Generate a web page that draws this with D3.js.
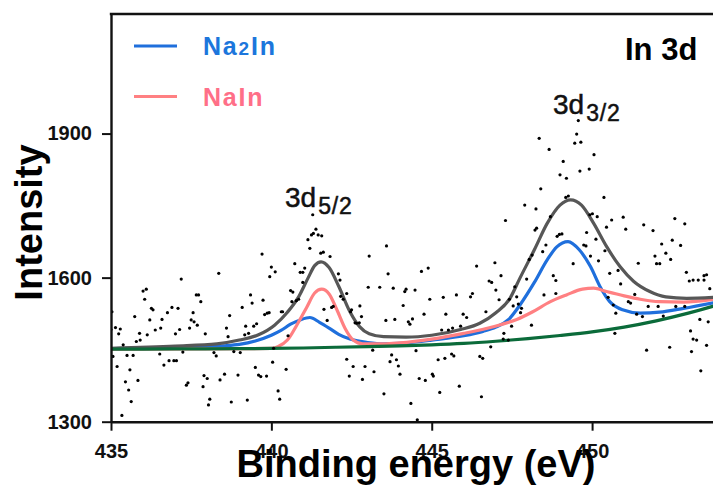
<!DOCTYPE html>
<html>
<head>
<meta charset="utf-8">
<script src="https://cdn.jsdelivr.net/npm/d3@7"></script>
<style>
  body { margin: 0; background: #fff; }
  svg { display: block; font-family: "Liberation Sans", Arial, sans-serif; }
</style>
</head>
<body>
<div id="chart"></div>
<script>

const xTicks = [435, 440, 445, 450];
const yTicks = [1300, 1600, 1900];
const xDomain = [435, 453.77];
const yDomain = [1300, 2149];

// measured counts: [binding energy, intensity]
const scanPoints = [
  [435.03,1529],[435.0,1492],[435.14,1496],[435.29,1493],[435.24,1483],[435.06,1436],[435.19,1415],
  [435.38,1460],[435.50,1438],[435.69,1438],[435.59,1408],[435.45,1383],[435.55,1366],[435.63,1342],
  [435.34,1313],[435.74,1519],[435.79,1467],[435.84,1386],[435.91,1470],[435.89,1484],[436.00,1572],
  [436.10,1576],[436.05,1555],[436.13,1481],[436.21,1512],[436.26,1536],[436.31,1533],[436.38,1491],
  [436.52,1441],[436.55,1495],[436.59,1513],[436.65,1418],[436.76,1527],[436.81,1427],[436.90,1538],
  [436.96,1427],[437.04,1427],[437.01,1483],[437.09,1536],[437.14,1492],[437.19,1597],[437.24,1445],
  [437.35,1376],[437.40,1381],[437.45,1495],[437.50,1512],[437.56,1527],[437.59,1508],[437.66,1564],
  [437.73,1564],[437.69,1501],[437.80,1550],[437.87,1373],[437.90,1396],[437.94,1483],[438.00,1390],
  [438.08,1347],[438.04,1335],[438.21,1444],[438.28,1437],[438.36,1609],[438.40,1387],[438.54,1399],
  [438.60,1495],[438.65,1477],[438.70,1521],[438.75,1341],[438.83,1446],[438.96,1397],[439.03,1444],
  [439.09,1538],[439.17,1481],[439.20,1499],[439.25,1345],[439.29,1484],[439.35,1564],[439.40,1547],
  [439.45,1499],[439.50,1413],[439.54,1504],[439.60,1397],[439.67,1394],[439.71,1649],[439.74,1553],
  [439.79,1523],[439.85,1395],[439.87,1526],[439.93,1527],[439.95,1602],[440.00,1622],[440.04,1424],
  [440.07,1453],[440.12,1612],[440.21,1364],[440.26,1347],[440.31,1529],[440.35,1529],[440.46,1409],
  [440.52,1479],[440.60,1573],[440.67,1570],[440.64,1550],[440.73,1629],[440.78,1552],[440.85,1555],
  [440.90,1611],[440.98,1611],[440.98,1590],[441.04,1620],[441.14,1679],
  [441.29,1731],[441.39,1701],[441.31,1692],[441.25,1689],[441.46,1689],[441.57,1687],[441.20,1661],
  [441.54,1651],[441.62,1653],[441.83,1644],[442.09,1608],[442.14,1595],[441.93,1540],[441.88,1538],
  [441.64,1534],[441.74,1511],[442.16,1561],[442.24,1555],[442.35,1567],[442.50,1533],[442.47,1529],
  [442.61,1506],[442.66,1505],[442.76,1541],[442.81,1519],[442.74,1506],[442.35,1430],[442.55,1415],
  [442.43,1395],[442.84,1388],[442.92,1415],[443.05,1645],[443.02,1580],[443.20,1404],[443.16,1449],
  [443.38,1580],[443.51,1358],[443.59,1666],[443.64,1608],[443.57,1511],[443.80,1578],[443.85,1513],
  [443.75,1439],[443.70,1425],[443.90,1429],[444.01,1399],[443.96,1416],[444.11,1542],[444.20,1576],
  [444.16,1571],[444.27,1508],[444.32,1503],[444.40,1514],[444.48,1574],[444.51,1448],[444.35,1338],
  [444.55,1304],[444.61,1390],[444.68,1613],[444.80,1386],[444.89,1620],[444.94,1555],[444.76,1524],
  [445.05,1395],[445.02,1399],[445.20,1429],[445.25,1361],[445.31,1491],[445.36,1559],[445.41,1432],
  [445.44,1524],[445.52,1491],[445.65,1495],[445.62,1441],[445.69,1437],[445.77,1564],[445.86,1374],
  [445.90,1499],[445.98,1524],[446.09,1517],[446.21,1560],[446.27,1567],[446.40,1624],[446.50,1436],
  [446.59,1432],[446.55,1352],[446.69,1529],[446.79,1593],[446.87,1590],[446.84,1456],[446.97,1631],
  [447.00,1574],[447.10,1554],[447.16,1604],[447.23,1472],[447.30,1719],[447.39,1470],[447.25,1484],
  [449.57,1927],[449.52,1899],[449.46,1880],[449.65,1882],[448.35,1890],[448.66,1867],[450.06,1856],
  [449.10,1842],[449.00,1814],[449.20,1807],[449.62,1822],[449.91,1826],[448.40,1785],[449.26,1770],
  [449.18,1767],[447.90,1751],[448.25,1743],[450.37,1767],[448.70,1727],[449.93,1731],[450.01,1733],
  [450.16,1727],[450.61,1720],[450.97,1726],[450.45,1705],[449.83,1694],[451.05,1701],[451.61,1710],
  [451.90,1698],[452.58,1723],[452.89,1712],[448.27,1703],[448.22,1699],[448.98,1690],[449.06,1691],
  [448.91,1686],[450.12,1680],[448.56,1668],[448.46,1654],[449.81,1666],[449.74,1668],[448.13,1647],
  [448.04,1638],[449.95,1645],[450.20,1635],[450.40,1656],[452.17,1670],[452.50,1678],[452.76,1667],
  [451.96,1645],[452.30,1651],[452.01,1629],[452.11,1629],[452.45,1638],[449.41,1629],[447.96,1597],
  [448.79,1604],[448.87,1594],[450.55,1609],[450.81,1615],[451.44,1630],[452.94,1611],[453.03,1593],
  [453.15,1595],[453.31,1595],[453.49,1595],[453.49,1604],[453.57,1606],[453.67,1577],[450.89,1587],
  [448.50,1564],[448.87,1567],[447.59,1581],[447.65,1560],[447.42,1555],[447.70,1545],[447.54,1541],
  [447.80,1536],[447.77,1527],[450.50,1559],[450.66,1543],[450.74,1526],[451.13,1550],[451.20,1547],
  [451.33,1565],[451.39,1524],[451.57,1519],[451.75,1540],[452.06,1540],[452.22,1520],[452.61,1540],
  [452.89,1540],[453.36,1513],[453.62,1508],[448.11,1501],[447.49,1499],[450.71,1484],[453.07,1489],
  [453.15,1472],[453.26,1470],[451.70,1449],[452.42,1455],[453.10,1446],[453.57,1459],[453.39,1406]
];

// fitted curves: [binding energy, intensity]
const backgroundCurve = [
  [435,1451],[437,1451.5],[439,1452],[440,1452.5],[441,1453.5],[442,1455],[443,1456.5],[444,1458],
  [445,1460],[446,1463],[447,1467.5],[448,1473],[449,1479.5],[450,1487],[451,1497],[452,1510],
  [453,1526],[453.8,1541]
];
const na2InCurve = [
  [435,1452],[436,1453],[437,1454],[438,1456],[438.5,1458],[439,1461],[439.5,1468],[440,1480],
  [440.3,1490],[440.6,1503],[440.9,1512],[441.2,1517],[441.5,1507],[441.8,1495],[442.1,1482],
  [442.45,1472],[443,1465],[443.5,1462],[444,1463],[444.5,1466],[445,1470],[446,1479],[446.6,1488],
  [447,1497],[447.4,1513],[447.75,1543],[448.2,1590],[448.6,1637],[448.9,1664],[449.25,1675],[449.6,1658],
  [449.95,1623],[450.25,1581],[450.55,1550],[450.95,1533],[451.5,1526],[452.1,1528],[452.85,1536],
  [453.8,1548]
];
const naInCurve = [
  [435,1451],[440,1452.5],[440.2,1456],[440.5,1470],[440.8,1502],[441.1,1538],[441.35,1568],
  [441.57,1576],[441.8,1566],[442.05,1532],[442.3,1494],[442.55,1470],[442.85,1462],[443.5,1462],
  [444,1464],[445,1472],[446,1484],[446.7,1494],[447.2,1503],[447.65,1513],[448.15,1529],[448.7,1550],
  [449.2,1564],[449.7,1576],[450.05,1578],[450.45,1571],[451,1562],[451.5,1555],[452.1,1550],
  [452.85,1549],[453.8,1555]
];
const envelopeCurve = [
  [435,1453],[437,1457.5],[438.3,1462],[439,1470],[439.6,1481],[440.1,1501],[440.5,1528],
  [440.85,1560],[441.15,1600],[441.35,1625],[441.55,1633],[441.8,1621],[442.1,1582],[442.45,1529],
  [442.75,1498],[443.05,1483],[443.5,1477],[444.2,1476],[445,1480],[445.9,1492],[446.5,1505],
  [447.0,1527],[447.44,1557],[447.75,1599],[448.2,1658],[448.6,1713],[449.0,1751],[449.33,1762],
  [449.67,1751],[450.05,1713],[450.45,1665],[450.87,1623],[451.3,1592],[451.8,1571],[452.3,1560],
  [452.95,1557],[453.8,1559]
];

// -------- LAYOUT --------
const width = 713, height = 497;
const margins = {top: 14, right: 0, bottom: 75.3, left: 111};

const svg = d3.select("#chart").append("svg")
  .attr("width", width)
  .attr("height", height);

const x = d3.scaleLinear()
  .domain(xDomain)
  .range([margins.left, width - margins.right]);

const y = d3.scaleLinear()
  .domain(yDomain)
  .range([height - margins.bottom, margins.top]);

svg.append("clipPath").attr("id", "plotClip")
  .append("rect")
    .attr("x", margins.left)
    .attr("y", margins.top)
    .attr("width", width - margins.left - margins.right)
    .attr("height", height - margins.top - margins.bottom);

const plot = svg.append("g").attr("clip-path", "url(#plotClip)");

// curves
const line = d3.line()
  .x(d => x(d[0]))
  .y(d => y(d[1]))
  .curve(d3.curveMonotoneX);

const curves = [
  {data: na2InCurve, color: "#1f6fdc"},
  {data: naInCurve, color: "#ff8082"},
  {data: envelopeCurve, color: "#575757"},
  {data: backgroundCurve, color: "#0b6b3a"}
];

plot.selectAll("path.fit")
  .data(curves)
  .join("path")
    .attr("class", "fit")
    .attr("d", d => line(d.data))
    .attr("fill", "none")
    .attr("stroke", d => d.color)
    .attr("stroke-width", 3.2)
    .attr("stroke-linejoin", "round");

// scan points
plot.selectAll("circle")
  .data(scanPoints)
  .join("circle")
    .attr("cx", d => x(d[0]))
    .attr("cy", d => y(d[1]))
    .attr("r", 1.6)
    .attr("fill", "#000");

// -------- AXES --------
const xAxisG = svg.append("g")
  .attr("transform", `translate(0, ${height - margins.bottom})`)
  .call(d3.axisBottom(x).tickValues(xTicks).tickFormat(d3.format("d"))
    .tickSize(9).tickSizeOuter(0).tickPadding(13));

const yAxisG = svg.append("g")
  .attr("transform", `translate(${margins.left}, 0)`)
  .call(d3.axisLeft(y).tickValues(yTicks).tickFormat(d3.format("d"))
    .tickSize(9).tickSizeOuter(0).tickPadding(10));

[xAxisG, yAxisG].forEach(g => {
  g.select(".domain").attr("stroke", "#111").attr("stroke-width", 2.4);
  g.selectAll(".tick line").attr("stroke", "#111").attr("stroke-width", 2);
  g.selectAll(".tick text")
    .attr("fill", "#111")
    .style("font-family", "'Liberation Sans', Arial, sans-serif")
    .style("font-size", "20px")
    .style("font-weight", "bold");
});

// top frame line
svg.append("line")
  .attr("x1", margins.left - 1.2)
  .attr("x2", width)
  .attr("y1", margins.top)
  .attr("y2", margins.top)
  .attr("stroke", "#111")
  .attr("stroke-width", 2.4);

// axis titles
svg.append("text")
  .attr("x", 416)
  .attr("y", 477)
  .attr("text-anchor", "middle")
  .style("font-size", "38px")
  .style("font-weight", "bold")
  .text("Binding energy (eV)");

svg.append("text")
  .attr("transform", "translate(41.5, 222.5) rotate(-90)")
  .attr("text-anchor", "middle")
  .style("font-size", "38px")
  .style("font-weight", "bold")
  .text("Intensity");

// -------- LABELS --------
svg.append("text")
  .attr("x", 625)
  .attr("y", 60)
  .style("font-size", "31px")
  .style("font-weight", "bold")
  .text("In 3d");

const peakLabels = [
  {x: 285, y: 206.5, main: "3d", sub: "5/2"},
  {x: 553, y: 113.5, main: "3d", sub: "3/2"}
];

peakLabels.forEach(p => {
  const t = svg.append("text")
    .attr("x", p.x)
    .attr("y", p.y)
    .attr("fill", "#111")
    .attr("stroke", "#111")
    .attr("stroke-width", 0.5)
    .style("font-size", "28px");
  t.append("tspan").text(p.main);
  t.append("tspan")
    .attr("dx", 2)
    .attr("dy", 7)
    .style("font-size", "23px")
    .style("letter-spacing", "0.8px")
    .text(p.sub);
});

// -------- LEGEND --------
const legendItems = [
  {parts: [["Na", 25], ["2", 19], ["In", 25]], line: "#1f6fdc", text: "#1c76dc", y: 46},
  {parts: [["NaIn", 25]], line: "#ff8082", text: "#ff6f88", y: 96.5}
];

legendItems.forEach(item => {
  svg.append("line")
    .attr("x1", 134)
    .attr("x2", 177)
    .attr("y1", item.y)
    .attr("y2", item.y)
    .attr("stroke", item.line)
    .attr("stroke-width", 3.2);

  const t = svg.append("text")
    .attr("x", 203)
    .attr("y", item.y + 9)
    .attr("fill", item.text)
    .style("font-weight", "bold")
    .style("letter-spacing", "1.8px");
  item.parts.forEach(([s, size]) => {
    t.append("tspan").style("font-size", size + "px").text(s);
  });
});
</script>
</body>
</html>
